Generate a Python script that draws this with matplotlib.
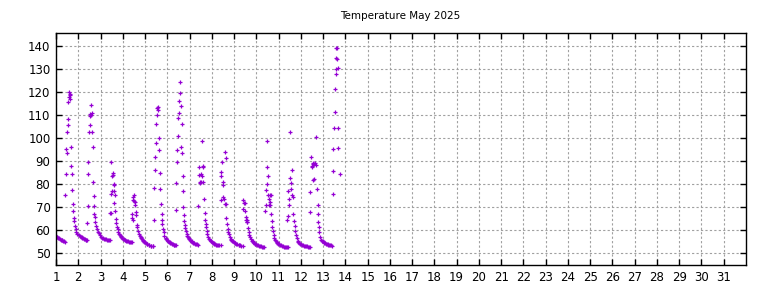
import matplotlib
matplotlib.use("Agg")
import matplotlib.pyplot as plt
from matplotlib.ticker import FixedLocator

title = "Temperature May 2025"

# (day-of-month, temperature) readings, grouped by day
d1_x = [1.00, 1.03, 1.06, 1.10, 1.13, 1.17, 1.21, 1.25, 1.28, 1.33, 1.36, 1.39, 1.42, 1.45, 1.46, 1.48, 1.51, 1.52, 1.55, 1.55, 1.57, 1.60, 1.61, 1.63, 1.64,
        1.69, 1.69, 1.73, 1.73, 1.78, 1.78, 1.82, 1.82, 1.85, 1.88, 1.91, 1.96, 2.03, 2.07, 2.11, 2.15, 2.18, 2.22, 2.26, 2.30, 2.33, 2.37, 2.40]
d1_y = [57.5, 57.2, 57.0, 56.7, 56.5, 56.2, 56.0, 55.8, 55.7, 55.5, 55.3, 55.0, 75.5, 84.5, 95.5, 93.5, 102.5, 105.5, 108.5, 115.5, 118.0, 120.0, 119.0, 118.5, 117.0,
        96.0, 88.0, 84.5, 77.5, 71.5, 68.2, 65.5, 64.0, 62.0, 60.5, 59.2, 58.5, 57.8, 57.5, 57.2, 57.0, 56.7, 56.5, 56.3, 56.1, 56.0, 55.9, 55.8]

d2_x = [2.41, 2.42, 2.45, 2.45, 2.48, 2.51, 2.51, 2.54, 2.57, 2.57, 2.60, 2.63, 2.66, 2.67, 2.69, 2.72, 2.72, 2.76, 2.76, 2.81,
        2.84, 2.87, 2.91, 2.96, 3.02, 3.06, 3.11, 3.15, 3.20, 3.25, 3.29, 3.33, 3.38, 3.44]
d2_y = [63.0, 70.8, 84.5, 89.5, 102.5, 105.5, 109.5, 110.5, 114.2, 110.0, 111.0, 102.5, 96.0, 81.0, 74.8, 70.5, 67.3, 65.7, 63.8, 62.0,
        60.8, 59.5, 58.8, 58.0, 57.1, 56.8, 56.6, 56.4, 56.3, 56.1, 56.0, 55.9, 55.8, 55.8]

d3_x = [3.41, 3.45, 3.45, 3.48, 3.51, 3.53, 3.54, 3.56, 3.59, 3.59, 3.62, 3.62, 3.66, 3.66, 3.71, 3.71, 3.75, 3.77, 3.80, 3.83,
        3.87, 3.90, 3.93, 3.97, 4.00, 4.04, 4.08, 4.12, 4.15, 4.20, 4.24, 4.28, 4.33, 4.37, 4.41]
d3_y = [67.4, 76.0, 67.4, 89.5, 77.3, 83.7, 84.2, 84.8, 79.5, 77.3, 80.0, 71.7, 75.2, 68.2, 65.1, 63.0, 61.6, 60.4, 59.3, 58.5,
        57.8, 57.4, 57.1, 56.7, 56.4, 56.2, 56.0, 55.7, 55.5, 55.3, 55.2, 55.1, 55.0, 55.0, 54.9]

d4_x = [4.41, 4.42, 4.45, 4.44, 4.47, 4.50, 4.51, 4.53, 4.56, 4.59, 4.59, 4.65, 4.66, 4.69, 4.72, 4.77, 4.80, 4.83, 4.86, 4.89, 4.93, 4.96, 5.00, 5.04,
        5.08, 5.11, 5.16, 5.20, 5.25, 5.29, 5.34, 5.38]
d4_y = [67.0, 65.3, 64.7, 74.7, 73.0, 75.2, 72.6, 72.2, 70.9, 67.8, 66.7, 62.3, 61.3, 59.7, 58.5, 57.6, 57.1, 56.6, 56.2, 55.9, 55.4, 55.0, 54.8, 54.5,
        54.2, 53.9, 53.7, 53.5, 53.3, 53.2, 53.2, 53.2]

d5_x = [5.41, 5.42, 5.45, 5.45, 5.50, 5.51, 5.54, 5.56, 5.57, 5.59, 5.62, 5.63, 5.68, 5.68, 5.72, 5.74, 5.77, 5.78, 5.81, 5.84,
        5.87, 5.92, 5.95, 5.98, 6.01, 6.04, 6.07, 6.10, 6.14, 6.17, 6.21, 6.25, 6.29, 6.32, 6.36, 6.40]
d5_y = [64.7, 78.2, 92.0, 86.4, 98.0, 106.0, 110.0, 113.0, 113.3, 112.3, 100.0, 94.8, 84.8, 77.8, 71.3, 67.3, 64.7, 62.6, 60.6, 59.2,
        57.6, 56.6, 56.1, 55.7, 55.4, 55.2, 55.0, 54.9, 54.7, 54.6, 54.3, 54.0, 53.8, 53.7, 53.6, 53.6]

d6_x = [6.40, 6.41, 6.44, 6.44, 6.49, 6.50, 6.53, 6.53, 6.56, 6.58, 6.61, 6.62, 6.64, 6.65, 6.69, 6.71, 6.72, 6.75, 6.75, 6.78,
        6.81, 6.84, 6.87, 6.90, 6.93, 6.96, 6.99, 7.02, 7.06, 7.10, 7.13, 7.17, 7.21, 7.26, 7.30, 7.34, 7.40]
d6_y = [68.7, 80.7, 89.5, 94.7, 101.0, 108.8, 110.7, 116.0, 124.2, 119.5, 113.8, 96.0, 106.0, 93.5, 83.7, 77.3, 70.3, 66.8, 64.1, 62.3,
        61.0, 59.7, 58.4, 57.6, 57.1, 56.6, 56.2, 55.9, 55.5, 55.2, 54.9, 54.7, 54.4, 54.1, 54.0, 53.9, 53.6]

d7_x = [7.38, 7.41, 7.43, 7.46, 7.47, 7.50, 7.52, 7.55, 7.58, 7.59, 7.61, 7.62, 7.65, 7.68, 7.70, 7.73, 7.74, 7.77, 7.80, 7.85,
        7.89, 7.92, 7.95, 7.98, 8.01, 8.05, 8.09, 8.12, 8.16, 8.20, 8.25, 8.29, 8.34, 8.40]
d7_y = [70.8, 87.3, 84.0, 80.4, 80.9, 80.9, 84.3, 98.8, 83.7, 87.3, 88.0, 81.2, 73.8, 67.7, 64.7, 62.6, 61.4, 59.9, 58.4, 57.2,
        56.3, 55.9, 55.5, 55.2, 55.0, 54.7, 54.4, 54.2, 54.0, 53.8, 53.7, 53.6, 53.6, 53.6]

d8_x = [8.40, 8.41, 8.43, 8.46, 8.49, 8.52, 8.52, 8.55, 8.58, 8.59, 8.62, 8.64, 8.66, 8.68, 8.71, 8.73, 8.75, 8.80, 8.84, 8.87, 8.90,
        8.94, 8.98, 9.02, 9.06, 9.10, 9.15, 9.20, 9.24, 9.28, 9.33, 9.39]
d8_y = [73.4, 85.5, 83.6, 89.5, 81.2, 79.5, 74.6, 73.8, 71.5, 94.0, 71.3, 91.4, 65.5, 62.6, 60.6, 59.4, 58.3, 57.2, 56.4, 55.9, 55.5,
        55.2, 55.0, 54.7, 54.4, 54.2, 54.0, 53.8, 53.7, 53.5, 53.4, 53.3]

d9_x = [9.40, 9.42, 9.45, 9.47, 9.51, 9.53, 9.55, 9.56, 9.59, 9.60, 9.62, 9.65, 9.68, 9.71, 9.75, 9.80, 9.83, 9.86, 9.89, 9.92, 9.95, 9.98, 10.02, 10.07,
        10.11, 10.16, 10.21, 10.26, 10.31, 10.36]
d9_y = [69.4, 73.0, 71.7, 71.7, 68.6, 65.7, 64.5, 63.5, 64.7, 63.8, 60.9, 59.2, 57.8, 57.0, 56.4, 55.6, 55.3, 55.0, 54.6, 54.3, 54.1, 53.9, 53.7, 53.5,
        53.3, 53.2, 53.1, 53.0, 52.9, 52.9]

d10_x = [10.41, 10.45, 10.45, 10.48, 10.48, 10.50, 10.53, 10.54, 10.57, 10.59, 10.60, 10.62, 10.63, 10.66, 10.68, 10.72, 10.72,
         10.75, 10.78, 10.81, 10.86, 10.89, 10.92, 10.95, 10.99, 11.03, 11.07, 11.10, 11.14, 11.18, 11.23, 11.28, 11.32, 11.36, 11.41]
d10_y = [68.3, 71.0, 77.5, 80.0, 87.4, 98.7, 83.5, 75.3, 73.5, 71.1, 72.4, 75.3, 71.0, 75.3, 67.3, 64.0, 61.4,
         59.7, 58.1, 56.8, 55.9, 55.4, 55.0, 54.6, 54.3, 54.0, 53.7, 53.5, 53.3, 53.1, 52.9, 52.8, 52.7, 52.7, 52.7]

d11_x = [11.40, 11.44, 11.44, 11.47, 11.49, 11.50, 11.52, 11.55, 11.58, 11.59, 11.62, 11.64, 11.67, 11.70, 11.73, 11.76, 11.79,
         11.82, 11.86, 11.89, 11.92, 11.96, 12.00, 12.04, 12.08, 12.12, 12.17, 12.21, 12.26, 12.30, 12.35, 12.41]
d11_y = [64.3, 66.2, 77.0, 71.0, 73.5, 82.6, 102.7, 77.8, 80.6, 75.3, 86.1, 74.5, 67.3, 64.0, 61.7, 59.8, 58.1,
         56.6, 55.5, 55.0, 54.6, 54.3, 54.0, 53.8, 53.6, 53.4, 53.3, 53.2, 53.1, 53.0, 52.9, 52.7]

d12_x = [12.42, 12.42, 12.47, 12.48, 12.51, 12.53, 12.53, 12.56, 12.59, 12.60, 12.62, 12.66, 12.68, 12.72, 12.75, 12.75, 12.77,
         12.80, 12.83, 12.87, 12.92, 12.95, 12.98, 13.02, 13.05, 13.09, 13.13, 13.16, 13.20, 13.24, 13.28, 13.33, 13.37, 13.41]
d12_y = [68.0, 76.6, 91.7, 87.3, 88.1, 89.0, 82.0, 89.3, 88.7, 82.3, 89.2, 88.4, 100.4, 77.8, 71.0, 66.9, 63.8,
         61.5, 59.2, 57.2, 56.0, 55.6, 55.2, 54.9, 54.6, 54.4, 54.2, 54.0, 53.9, 53.8, 53.7, 53.6, 53.6, 53.4]

d13_x = [13.43, 13.43, 13.44, 13.47, 13.52, 13.55, 13.56, 13.58, 13.59, 13.59, 13.61, 13.62, 13.65, 13.67, 13.68, 13.74]
d13_y = [95.2, 85.7, 75.7, 104.3, 111.4, 121.2, 127.7, 129.9, 134.7, 139.0, 134.2, 139.3, 130.3, 104.3, 95.6, 84.4]

days_x = [d1_x, d2_x, d3_x, d4_x, d5_x, d6_x, d7_x, d8_x, d9_x, d10_x, d11_x, d12_x, d13_x]
days_y = [d1_y, d2_y, d3_y, d4_y, d5_y, d6_y, d7_y, d8_y, d9_y, d10_y, d11_y, d12_y, d13_y]

x_ticks = list(range(1, 32))
y_ticks = list(range(50, 141, 10))

fig = plt.figure(figsize=(7.68, 2.88), dpi=100)
ax = fig.add_axes([56 / 768, 1 - 265 / 288, 690 / 768, 232 / 288])

xs = [v for d in days_x for v in d]
ys = [v for d in days_y for v in d]
ax.plot(xs, ys, linestyle="none", marker="+", color="#9400d3", markersize=3.2, markeredgewidth=0.9)

ax.set_xlim(1, 32)
ax.set_ylim(45, 145.6)
ax.xaxis.set_major_locator(FixedLocator(x_ticks))
ax.yaxis.set_major_locator(FixedLocator(y_ticks))
ax.set_xticklabels([str(t) for t in x_ticks])
ax.set_yticklabels([str(t) for t in y_ticks])
ax.tick_params(direction="in", length=4, width=1, top=True, right=True, labeltop=False, labelright=False,
               labelsize=8.5, pad=4, colors="black")
ax.grid(True, color="#a0a0a0", linestyle=(0, (2, 2)), linewidth=0.8)
for s in ax.spines.values():
    s.set_linewidth(1.0)
    s.set_color("black")

fig.text(400 / 768, 1 - 16 / 288, title, ha="center", va="center", fontsize=7.5)

fig.savefig("out.png", dpi=100)
